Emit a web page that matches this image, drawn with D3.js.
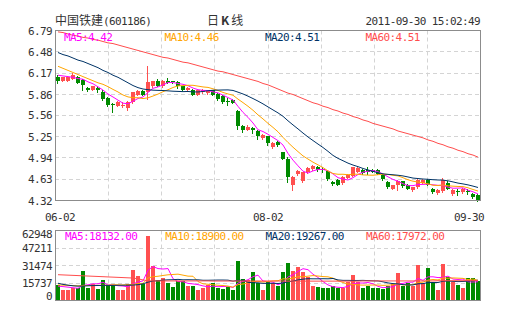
<!DOCTYPE html>
<html><head><meta charset="utf-8">
<script src="https://cdn.jsdelivr.net/npm/d3@7/dist/d3.min.js"></script>
<style>
html,body{margin:0;padding:0;background:#fff;}
svg{display:block;}
.m{font-family:"DejaVu Sans Mono","Liberation Mono",monospace;font-size:11px;letter-spacing:-0.6px;}
.cjk{font-family:"Noto Sans CJK SC","Noto Sans",sans-serif;font-size:12px;}
</style></head><body>
<svg id="chart" width="505" height="330"></svg>
<script>
const dates=["06-02","06-03","06-07","06-08","06-09","06-10","06-13","06-14","06-15","06-16","06-17","06-20","06-21","06-22","06-23","06-24","06-27","06-28","06-29","06-30",
"07-01","07-04","07-05","07-06","07-07","07-08","07-11","07-12","07-13","07-14","07-15","07-18","07-19","07-20","07-21","07-22","07-25","07-26","07-27","07-28","07-29",
"08-01","08-02","08-03","08-04","08-05","08-08","08-09","08-10","08-11","08-12","08-15","08-16","08-17","08-18","08-19","08-22","08-23","08-24","08-25","08-26","08-29","08-30","08-31",
"09-01","09-02","09-05","09-06","09-07","09-08","09-09","09-13","09-14","09-15","09-16","09-19","09-20","09-21","09-22","09-23","09-26","09-27","09-28","09-29","09-30"];
const xLabels=["06-02","08-02","09-30"];
const priceTicks=[6.79,6.48,6.17,5.86,5.56,5.25,4.94,4.63,4.32];
const volTicks=[62948,47211,31474,15737,0];

const open=[6.12,6.06,6.06,6.09,6.12,6.07,5.96,5.93,5.96,5.89,5.81,5.72,5.70,5.69,5.67,5.75,5.86,5.91,5.89,5.98,6.06,5.98,6.05,6.05,6.04,5.98,5.92,5.93,5.86,5.89,5.88,5.92,5.87,5.84,5.77,5.78,5.62,5.40,5.35,5.37,5.33,5.23,5.25,5.10,5.17,5.02,4.93,4.55,4.70,4.61,4.73,4.78,4.81,4.78,4.75,4.59,4.62,4.57,4.65,4.68,4.74,4.77,4.77,4.76,4.77,4.69,4.59,4.49,4.54,4.60,4.55,4.47,4.51,4.58,4.62,4.49,4.43,4.46,4.58,4.41,4.46,4.44,4.46,4.42,4.40];
const high=[6.14,6.12,6.13,6.17,6.13,6.08,5.97,5.99,5.98,5.92,5.82,5.73,5.76,5.75,5.76,5.90,5.92,5.92,6.27,6.06,6.08,6.07,6.10,6.06,6.05,5.99,5.97,5.94,5.93,5.94,5.93,5.93,5.88,5.85,5.81,5.79,5.64,5.41,5.41,5.39,5.34,5.28,5.26,5.17,5.18,5.03,4.95,4.67,4.76,4.74,4.80,4.83,4.82,4.81,4.76,4.61,4.63,4.67,4.70,4.81,4.80,4.78,4.80,4.78,4.78,4.70,4.60,4.55,4.62,4.61,4.56,4.52,4.63,4.63,4.63,4.50,4.48,4.64,4.61,4.48,4.49,4.50,4.48,4.43,4.41];
const low=[6.02,6.05,6.05,6.08,6.02,5.92,5.91,5.92,5.90,5.78,5.70,5.61,5.69,5.68,5.63,5.74,5.85,5.85,5.80,5.97,5.98,5.97,6.02,6.02,5.95,5.92,5.91,5.85,5.85,5.88,5.87,5.85,5.78,5.74,5.71,5.73,5.36,5.31,5.34,5.30,5.21,5.22,5.12,5.09,5.11,4.92,4.59,4.47,4.69,4.59,4.72,4.77,4.75,4.73,4.62,4.54,4.54,4.56,4.64,4.67,4.73,4.71,4.71,4.73,4.70,4.62,4.50,4.48,4.47,4.52,4.48,4.46,4.50,4.57,4.54,4.43,4.42,4.45,4.48,4.40,4.40,4.43,4.42,4.35,4.32];
const close=[6.05,6.11,6.12,6.15,6.03,6.00,5.92,5.98,5.93,5.79,5.71,5.71,5.75,5.71,5.75,5.89,5.91,5.86,6.04,6.05,5.99,6.06,6.03,6.04,5.98,5.93,5.96,5.86,5.92,5.93,5.92,5.86,5.79,5.75,5.76,5.74,5.40,5.35,5.39,5.35,5.25,5.27,5.15,5.16,5.12,4.93,4.66,4.66,4.75,4.73,4.79,4.82,4.76,4.76,4.63,4.56,4.55,4.66,4.69,4.80,4.79,4.72,4.73,4.74,4.71,4.63,4.51,4.54,4.61,4.53,4.49,4.51,4.62,4.62,4.55,4.44,4.47,4.62,4.49,4.47,4.45,4.49,4.45,4.37,4.32];
const volume=[13600,9100,9700,10900,11600,26500,11600,14500,10700,18500,13600,13900,9600,9600,14500,27200,22300,14500,57800,30800,18100,20500,16100,12500,17600,17600,13400,13400,9600,11600,14000,15800,11100,10500,12000,9000,35500,19000,18000,25500,16000,9000,16400,15800,13400,25900,34000,26800,30400,25900,21500,13400,12500,11600,11000,13400,11000,11000,17000,23000,16400,11000,13400,11300,11300,10500,13400,15000,24500,13400,16000,13400,31900,16000,29000,16400,9600,32800,21500,16400,14000,11600,20600,20600,17600];

const ma5=[6.14,6.13,6.12,6.11,6.092,6.082,6.044,6.016,5.972,5.924,5.866,5.824,5.778,5.734,5.726,5.762,5.802,5.824,5.89,5.95,5.97,6.00,6.034,6.034,6.02,6.008,5.988,5.954,5.93,5.92,5.918,5.898,5.884,5.85,5.816,5.78,5.688,5.60,5.528,5.446,5.348,5.322,5.282,5.236,5.19,5.126,5.004,4.906,4.824,4.746,4.718,4.75,4.77,4.772,4.752,4.706,4.652,4.632,4.618,4.652,4.698,4.732,4.746,4.756,4.738,4.706,4.664,4.626,4.60,4.564,4.536,4.536,4.552,4.554,4.558,4.548,4.54,4.54,4.514,4.498,4.50,4.504,4.47,4.446,4.416];
const ma10=[6.27,6.24,6.21,6.18,6.15,6.12,6.09,6.06,6.03,6.008,5.974,5.934,5.897,5.853,5.825,5.814,5.813,5.801,5.812,5.838,5.866,5.901,5.929,5.962,5.985,5.989,5.994,5.994,5.982,5.97,5.963,5.943,5.919,5.89,5.868,5.849,5.793,5.742,5.689,5.631,5.564,5.505,5.441,5.382,5.318,5.237,5.163,5.094,5.03,4.968,4.922,4.877,4.838,4.798,4.749,4.712,4.701,4.701,4.695,4.702,4.702,4.692,4.689,4.687,4.695,4.702,4.698,4.686,4.678,4.651,4.621,4.60,4.589,4.577,4.561,4.542,4.538,4.546,4.534,4.528,4.524,4.522,4.505,4.48,4.457];
const ma20=[6.47,6.44,6.42,6.39,6.36,6.34,6.31,6.28,6.25,6.21,6.18,6.14,6.11,6.07,6.03,5.99,5.96,5.94,5.93,5.923,5.92,5.918,5.913,5.908,5.905,5.902,5.904,5.898,5.897,5.904,5.915,5.922,5.924,5.926,5.927,5.919,5.894,5.868,5.836,5.801,5.764,5.724,5.68,5.636,5.593,5.543,5.478,5.418,5.36,5.30,5.243,5.191,5.14,5.09,5.034,4.975,4.932,4.898,4.863,4.835,4.812,4.785,4.764,4.743,4.722,4.707,4.70,4.694,4.687,4.677,4.662,4.646,4.639,4.632,4.628,4.622,4.618,4.616,4.606,4.59,4.573,4.561,4.547,4.529,4.509];
const ma60=[6.77,6.76,6.74,6.72,6.71,6.69,6.68,6.66,6.65,6.63,6.61,6.60,6.58,6.56,6.54,6.52,6.50,6.48,6.46,6.44,6.42,6.40,6.39,6.37,6.35,6.33,6.32,6.30,6.28,6.26,6.24,6.22,6.20,6.19,6.17,6.15,6.13,6.11,6.09,6.07,6.05,6.02,6.00,5.97,5.94,5.91,5.88,5.86,5.83,5.80,5.77,5.74,5.72,5.69,5.67,5.64,5.62,5.59,5.57,5.54,5.52,5.49,5.47,5.44,5.42,5.40,5.38,5.36,5.33,5.31,5.29,5.27,5.25,5.23,5.20,5.18,5.15,5.13,5.10,5.08,5.05,5.03,5.00,4.98,4.95];

const vma5=[12900,12500,12000,11500,11000,13600,14100,15000,15000,16400,13800,14200,13300,13000,12200,15000,16600,17600,27300,30500,28700,28300,28700,19600,17000,16900,15400,14900,14300,13100,12400,12900,12400,12600,12700,11700,15600,17200,18700,21400,22800,17500,17000,16500,14100,16100,21100,23200,26100,28600,27700,23600,20700,17000,14000,12400,11900,11600,12700,15100,15700,15700,16200,15000,12700,11500,12000,12300,14900,15400,16500,16500,19800,18100,21300,21300,20600,20800,21900,19300,18900,19300,16800,16600,16900];
const vma10=[14000,13800,13600,13400,13200,13400,13500,13600,13600,13700,13700,14200,14100,14000,14300,14400,15400,15400,20200,21400,21800,22500,23100,23400,23700,22800,21900,21800,17000,15000,14600,14200,13700,13500,12900,12000,14300,14800,15700,17000,17200,16600,17100,17600,17800,19500,19300,20100,21300,21400,21900,22400,22000,21500,21300,20100,17800,16200,14800,14500,14000,13800,13900,13900,13900,13600,13800,14200,15000,14000,14000,14200,16100,16500,18300,18900,18500,20300,20000,20300,20100,19900,18800,19300,18100];
const vma20=[15500,14500,13800,13200,12900,13000,13200,13400,13500,13600,13600,13600,13700,13700,13800,13900,14200,15000,16500,17500,17800,18300,18600,18700,19000,18600,18700,18600,18600,18200,18200,18300,18400,18400,18300,17400,18100,18300,16300,16000,15900,15400,15400,15500,15300,15700,16800,17400,18500,19200,19600,19500,19500,19600,19500,19800,18500,18100,18100,18000,18000,18100,17900,17700,17600,16800,15800,15200,14900,14300,14000,14000,15000,15200,16100,16200,16200,17300,17500,17200,17000,17100,17400,17900,18200];
const vma60=[23200,23000,22800,22600,22400,22200,22000,21800,21600,21400,21200,21000,20800,20600,20400,20200,19500,18500,17800,17600,17600,17600,17600,17600,17600,17600,17600,17600,17600,17600,17600,17500,17500,17500,17500,17500,17500,17500,17500,17500,17500,17500,17500,17500,17500,17500,17400,17400,17400,17400,17400,17400,17400,17400,17400,17400,17400,17400,17400,17400,17400,17600,17600,17600,17600,17600,17600,17600,17600,17600,17600,17600,17600,17600,17600,17600,17800,17800,17800,17800,17800,17800,17900,17900,17970];

const priceLegend=["MA5:4.42","MA10:4.46","MA20:4.51","MA60:4.51"];
const volLegend=["MA5:18132.00","MA10:18900.00","MA20:19267.00","MA60:17972.00"];
const lineColors=["#ff00ff","#ffa500","#003366","#ff4d4d"];
const UP="#ff5050", DOWN="#008a00", GRID="#d4d4d4", FRAME="#8c8c8c", TXT="#333";

const L=55,R=481,PT=30.5,PB=200.5,VT=230.5,VB=300.5;
const svg=d3.select("#chart");
const n=dates.length;
const x=d3.scaleBand().domain(d3.range(n)).range([L,R]).paddingInner(0.2).paddingOuter(0.1);
const bw=Math.round(x.bandwidth());
const bx=i=>Math.round(x(i));
const cx=i=>bx(i)+bw/2;
const y=d3.scaleLinear().domain([priceTicks[priceTicks.length-1],priceTicks[0]]).range([PB,PT]);
const vy=d3.scaleLinear().domain([0,volTicks[0]]).range([VB,VT]);
const gx=d3.scaleLinear().domain([0,8]).range([L,R]);
const snap=v=>Math.round(v-0.5)+0.5;

// header
svg.append("text").attr("x",55).attr("y",25).attr("fill",TXT)
  .call(t=>{t.append("tspan").attr("class","cjk").text("中国铁建");
            t.append("tspan").attr("class","m").text("(601186)");});
svg.append("text").attr("class","cjk").attr("x",207).attr("y",25).attr("fill",TXT)
  .call(t=>{t.append("tspan").text("日");
            t.append("tspan").attr("dx",2).attr("font-weight","bold").text("K");
            t.append("tspan").attr("dx",2).text("线");});
svg.append("text").attr("class","m").attr("x",480).attr("y",25).attr("text-anchor","end")
  .attr("fill",TXT).text("2011-09-30 15:02:49");

function grid(top,bot,hvals,ys){
  const g=svg.append("g").attr("stroke",GRID).attr("stroke-dasharray","4,3").attr("fill","none");
  d3.range(1,8).forEach(k=>{
    g.append("line").attr("x1",snap(gx(k))).attr("x2",snap(gx(k))).attr("y1",top).attr("y2",bot);
  });
  hvals.forEach(v=>{
    const yy=snap(ys(v));
    g.append("line").attr("x1",L).attr("x2",R).attr("y1",yy).attr("y2",yy);
  });
}
grid(PT,PB,priceTicks.slice(1,-1),y);
grid(VT,VB,volTicks.slice(1,-1),vy);

// candles
const cg=svg.append("g").attr("shape-rendering","crispEdges");
d3.range(n).forEach(i=>{
  const up=close[i]>=open[i];
  const col=up?UP:DOWN;
  const t=Math.round(y(Math.max(open[i],close[i])));
  const b=Math.round(y(Math.min(open[i],close[i])));
  cg.append("line").attr("x1",bx(i)+1.5).attr("x2",bx(i)+1.5)
    .attr("y1",Math.round(y(high[i]))).attr("y2",Math.round(y(low[i]))+1)
    .attr("stroke",col).attr("stroke-width",1);
  cg.append("rect").attr("x",bx(i)).attr("y",t).attr("width",bw).attr("height",Math.max(1,b-t)).attr("fill",col);
});

// volume bars
const vg=svg.append("g").attr("shape-rendering","crispEdges");
vg.selectAll("rect").data(volume).join("rect")
  .attr("x",(d,i)=>bx(i)).attr("width",bw)
  .attr("y",d=>Math.round(vy(d))).attr("height",d=>Math.round(VB)-Math.round(vy(d)))
  .attr("fill",(d,i)=>close[i]>=open[i]?UP:DOWN);

// MA lines
function drawLines(series,scale){
  series.forEach((s,k)=>{
    svg.append("path").datum(s).attr("fill","none").attr("stroke",lineColors[k]).attr("stroke-width",1)
      .attr("d",d3.line().x((d,i)=>cx(i)).y(d=>scale(d)));
  });
}
drawLines([ma5,ma10,ma20,ma60],y);
drawLines([vma5,vma10,vma20,vma60],vy);

// legends
priceLegend.forEach((t,k)=>{
  svg.append("text").attr("class","m").attr("x",L+9+k*100.5).attr("y",41).attr("fill",lineColors[k]).text(t);
});
volLegend.forEach((t,k)=>{
  svg.append("text").attr("class","m").attr("x",L+10+k*100.3).attr("y",240).attr("fill",lineColors[k]).text(t);
});

// frames
[[PT,PB],[VT,VB]].forEach(([a,b])=>{
  svg.append("rect").attr("x",L+0.5).attr("y",a).attr("width",R-L-1).attr("height",b-a)
    .attr("fill","none").attr("stroke",FRAME).attr("shape-rendering","crispEdges");
});

// axes
const pa=svg.append("g").attr("transform",`translate(${L},0)`)
  .call(d3.axisLeft(y).tickValues(priceTicks).tickSize(0).tickPadding(3).tickFormat(d3.format(".2f")));
pa.select(".domain").remove();
pa.attr("font-family",null).attr("font-size",null);
pa.selectAll("text").attr("class","m").attr("fill",TXT);

const va=svg.append("g").attr("transform",`translate(${L},0)`)
  .call(d3.axisLeft(vy).tickValues(volTicks).tickSize(0).tickPadding(3).tickFormat(d3.format("d")));
va.select(".domain").remove();
va.attr("font-family",null).attr("font-size",null);
va.selectAll("text").attr("class","m").attr("fill",TXT)
  .attr("dy",d=>d===volTicks[0]?"0.6em":(d===0?"-0.05em":"0.32em"));

// x labels
xLabels.forEach(lab=>{
  const i=dates.indexOf(lab);
  let c=cx(i);
  const half=15;
  c=Math.max(45+half,Math.min(484-half,c));
  svg.append("text").attr("class","m").attr("x",c).attr("y",221).attr("text-anchor","middle").attr("fill",TXT).text(lab);
});
</script>
</body></html>
